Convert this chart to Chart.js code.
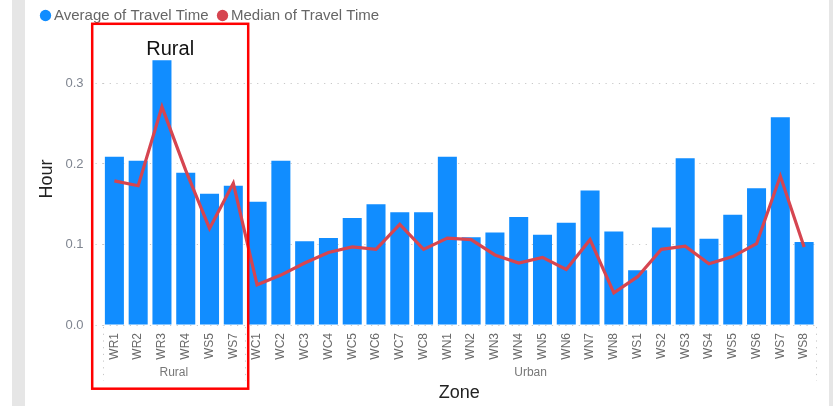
<!DOCTYPE html>
<html><head><meta charset="utf-8">
<script src="https://cdn.jsdelivr.net/npm/chart.js@4"></script>
<style>
html,body{margin:0;padding:0;}
body{width:833px;height:406px;overflow:hidden;background:linear-gradient(to right,#fff 0,#fff 12px,#e6e6e6 12px,#e6e6e6 25px,#fff 25px,#fff 829px,#e6e6e6 829px);}
#wrap{position:absolute;left:0;top:0;width:833px;height:406px;}
</style></head><body>
<div id="wrap"><canvas id="c" width="833" height="406"></canvas></div>
<script>
const zones = ['WR1','WR2','WR3','WR4','WS5','WS7',
  'WC1','WC2','WC3','WC4','WC5','WC6','WC7','WC8',
  'WN1','WN2','WN3','WN4','WN5','WN6','WN7','WN8',
  'WS1','WS2','WS3','WS4','WS5','WS6','WS7','WS8'];
const groups = ['Rural','Urban'];
const groupSizes = [6,24];
const avgTravel = [0.209,0.204,0.329,0.189,0.163,0.173,
  0.153,0.204,0.104,0.108,0.133,0.150,0.140,0.140,
  0.209,0.109,0.115,0.134,0.112,0.127,0.167,0.116,
  0.068,0.121,0.207,0.107,0.137,0.170,0.258,0.103];
const medianTravel = [0.179,0.173,0.271,0.192,0.120,0.176,
  0.050,0.062,0.077,0.090,0.097,0.094,0.125,0.094,
  0.108,0.106,0.087,0.077,0.084,0.069,0.106,0.040,
  0.060,0.094,0.098,0.076,0.085,0.101,0.185,0.097];
const yTicks = [0,0.1,0.2,0.3];
const annotationText = 'Rural';

const FONT = "'Liberation Sans', Arial, sans-serif";
const BLUE = '#118DFF';
const RED = '#D64550';
const GRID = '#c8c8c8';
const DOTS = [1.2, 5.5];

const extras = {
  id: 'extras',
  afterDraw(chart) {
    const ctx = chart.ctx;
    const xs = chart.scales.x;
    const area = chart.chartArea;
    ctx.save();
    let start = 0;
    const seps = [];
    groups.forEach((g, gi) => {
      const end = start + groupSizes[gi] - 1;
      const l = start === 0 ? xs.left : (xs.getPixelForValue(start - 1) + xs.getPixelForValue(start)) / 2;
      const r = end === zones.length - 1 ? xs.right : (xs.getPixelForValue(end) + xs.getPixelForValue(end + 1)) / 2;
      seps.push(l, r);
      ctx.fillStyle = '#777';
      ctx.font = '12px ' + FONT;
      ctx.textAlign = 'center';
      ctx.textBaseline = 'middle';
      ctx.fillText(g, (l + r) / 2, area.bottom + 48);
      start = end + 1;
    });
    ctx.strokeStyle = GRID;
    ctx.lineWidth = 1;
    ctx.setLineDash(DOTS);
    [...new Set(seps.map(v => Math.round(v)))].forEach(x => {
      ctx.beginPath();
      ctx.moveTo(x + 0.5, area.bottom + 2);
      ctx.lineTo(x + 0.5, area.bottom + 56);
      ctx.stroke();
    });
    ctx.setLineDash([]);
    const boxL = xs.left - 10.3;
    const boxR = (xs.getPixelForValue(groupSizes[0] - 1) + xs.getPixelForValue(groupSizes[0])) / 2 + 3;
    const boxT = 23.8;
    const boxB = chart.height - 17.3;
    ctx.strokeStyle = '#FF0000';
    ctx.lineWidth = 2.5;
    ctx.strokeRect(boxL, boxT, boxR - boxL, boxB - boxT);
    ctx.fillStyle = '#111';
    ctx.font = '20px ' + FONT;
    ctx.textAlign = 'center';
    ctx.textBaseline = 'middle';
    ctx.fillText(annotationText, (boxL + boxR) / 2, boxT + 26);
    ctx.restore();
  }
};

new Chart(document.getElementById('c'), {
  data: {
    labels: zones,
    datasets: [
      { type: 'bar', label: 'Average of Travel Time', data: avgTravel, backgroundColor: BLUE,
        barPercentage: 0.8, categoryPercentage: 1.0, order: 1 },
      { type: 'line', label: 'Median of Travel Time', data: medianTravel, borderColor: RED,
        backgroundColor: RED, borderWidth: 3.2, pointRadius: 0, tension: 0, order: 0 }
    ]
  },
  options: {
    responsive: false,
    animation: false,
    layout: { padding: { left: 31.5, right: 17, top: -5, bottom: 0 } },
    plugins: {
      tooltip: { enabled: false },
      legend: {
        position: 'top',
        align: 'start',
        labels: {
          usePointStyle: true,
          boxWidth: 2,
          boxHeight: 8,
          padding: 13,
          color: '#666',
          font: { size: 15, family: FONT },
          sort: (a, b) => a.datasetIndex - b.datasetIndex,
          generateLabels(chart) {
            return chart.data.datasets.map((ds, i) => ({
              text: ds.label, fillStyle: ds.type === 'bar' ? ds.backgroundColor : ds.borderColor,
              strokeStyle: 'rgba(0,0,0,0)', lineWidth: 0, pointStyle: 'circle',
              hidden: false, datasetIndex: i, fontColor: '#666'
            }));
          }
        }
      }
    },
    scales: {
      x: {
        grid: { display: false, drawTicks: false },
        border: { display: false },
        ticks: { minRotation: 90, maxRotation: 90, padding: 8, color: '#6a6a6a', font: { size: 12, family: FONT }, autoSkip: false },
        title: { display: true, text: 'Zone', color: '#222', font: { size: 18, family: FONT }, padding: { top: 0, bottom: 2 } },
        afterFit(scale) { scale.height = 81; }
      },
      y: {
        min: 0,
        max: 0.3627,
        afterBuildTicks(scale) { scale.ticks = yTicks.map(v => ({ value: v })); },
        grid: { color: GRID, lineWidth: 1, tickLength: 7, drawTicks: true, tickColor: GRID, tickBorderDash: DOTS },
        border: { display: false, dash: DOTS },
        ticks: { padding: 12, color: '#7f8590', font: { size: 13, family: FONT }, callback: v => Number(v).toFixed(1) },
        title: { display: true, text: 'Hour', color: '#222', font: { size: 18, family: FONT }, padding: { top: 5, bottom: 0 } },
        afterFit(scale) { scale.width = 71; }
      }
    }
  },
  plugins: [extras]
});
</script>
</body></html>
